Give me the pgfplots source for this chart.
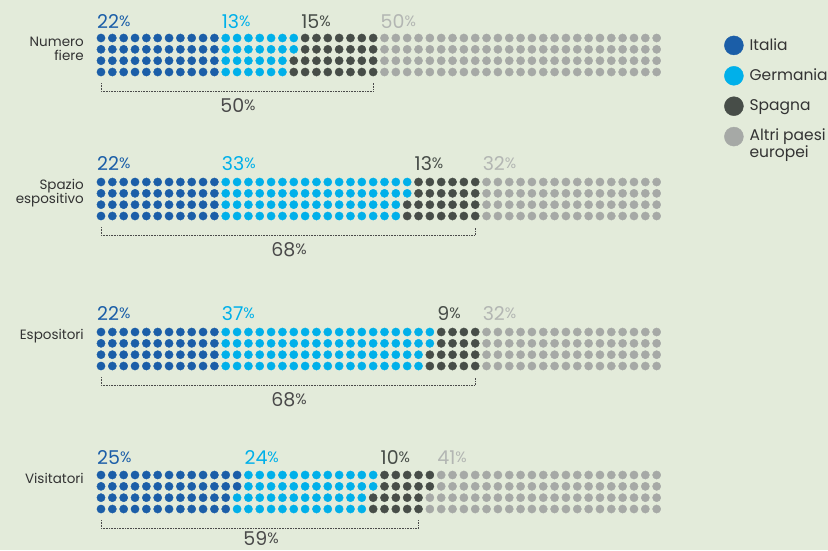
\documentclass[border=0pt]{standalone}
\usepackage{pgfplots}
\pgfplotsset{compat=1.18}
\usepackage{fontspec}
\setmainfont{Poppins}
\definecolor{bg}{HTML}{E3EBDA}
\definecolor{italia}{HTML}{1B5EA8}
\definecolor{germania}{HTML}{00B0EA}
\definecolor{spagna}{HTML}{474D48}
\definecolor{altri}{HTML}{A6A9A6}
\definecolor{altriT}{HTML}{B3B6B3}
\definecolor{txt}{HTML}{333333}
\definecolor{brkcol}{HTML}{4A4A4A}
\newcommand\pct[1]{{\fontsize{19}{21}\selectfont #1}{\fontsize{15}{17}\selectfont\raisebox{1.2pt}{\%}}}
\pgfplotsset{
 dot/.style={only marks, mark=*, mark size=4.1, mark options={draw=none}},
 g1/.style={x filter/.expression={101+11.34*x}, y filter/.expression={38+11.34*y}},
 g2/.style={x filter/.expression={101+11.34*x}, y filter/.expression={182+11.34*y}},
 g3/.style={x filter/.expression={101+11.34*x}, y filter/.expression={332+11.34*y}},
 g4/.style={x filter/.expression={101+11.34*x}, y filter/.expression={475+11.34*y}},
 bracket/.style={color=brkcol, line width=0.6pt, densely dotted, forget plot},
}
\begin{document}
\begin{tikzpicture}
\fill[bg] (0,0) rectangle (828pt,550pt);
\begin{axis}[at={(0,0)}, anchor=south west,
 width=828pt, height=550pt, scale only axis,
 xmin=0, xmax=828, ymin=0, ymax=550, y dir=reverse,
 hide axis, clip=false,
 legend style={at={(axis cs:724,35.5)}, anchor=north west, draw=none, fill=none,
   font=\fontsize{15.5}{17}\selectfont, text=txt, row sep=11pt, inner sep=0pt,
   cells={anchor=west},
   /tikz/every odd column/.append style={column sep=4pt}},
 legend image code/.code={\fill[#1] (0pt,0pt) circle (9.5pt);},
]
% ---------- Group 1: Numero fiere (22/13/15/50)
\addplot[dot, g1, color=italia] coordinates {(0,0)(0,1)(0,2)(0,3)(1,0)(1,1)(1,2)(1,3)(2,0)(2,1)(2,2)(2,3)(3,0)(3,1)(3,2)(3,3)(4,0)(4,1)(4,2)(4,3)(5,0)(5,1)(5,2)(5,3)(6,0)(6,1)(6,2)(6,3)(7,0)(7,1)(7,2)(7,3)(8,0)(8,1)(8,2)(8,3)(9,0)(9,1)(9,2)(9,3)(10,0)(10,1)(10,2)(10,3)};
\addlegendentry{Italia}
\addplot[dot, g1, color=germania] coordinates {(11,0)(11,1)(11,2)(11,3)(12,0)(12,1)(12,2)(12,3)(13,0)(13,1)(13,2)(13,3)(14,0)(14,1)(14,2)(14,3)(15,0)(15,1)(15,2)(15,3)(16,0)(16,1)(16,2)(16,3)(17,0)(17,1)};
\addlegendentry{Germania}
\addplot[dot, g1, color=spagna] coordinates {(17,2)(17,3)(18,0)(18,1)(18,2)(18,3)(19,0)(19,1)(19,2)(19,3)(20,0)(20,1)(20,2)(20,3)(21,0)(21,1)(21,2)(21,3)(22,0)(22,1)(22,2)(22,3)(23,0)(23,1)(23,2)(23,3)(24,0)(24,1)(24,2)(24,3)};
\addlegendentry{Spagna}
\addplot[dot, g1, color=altri] coordinates {(25,0)(25,1)(25,2)(25,3)(26,0)(26,1)(26,2)(26,3)(27,0)(27,1)(27,2)(27,3)(28,0)(28,1)(28,2)(28,3)(29,0)(29,1)(29,2)(29,3)(30,0)(30,1)(30,2)(30,3)(31,0)(31,1)(31,2)(31,3)(32,0)(32,1)(32,2)(32,3)(33,0)(33,1)(33,2)(33,3)(34,0)(34,1)(34,2)(34,3)(35,0)(35,1)(35,2)(35,3)(36,0)(36,1)(36,2)(36,3)(37,0)(37,1)(37,2)(37,3)(38,0)(38,1)(38,2)(38,3)(39,0)(39,1)(39,2)(39,3)(40,0)(40,1)(40,2)(40,3)(41,0)(41,1)(41,2)(41,3)(42,0)(42,1)(42,2)(42,3)(43,0)(43,1)(43,2)(43,3)(44,0)(44,1)(44,2)(44,3)(45,0)(45,1)(45,2)(45,3)(46,0)(46,1)(46,2)(46,3)(47,0)(47,1)(47,2)(47,3)(48,0)(48,1)(48,2)(48,3)(49,0)(49,1)(49,2)(49,3)};
\addlegendentry{\raisebox{-4.5pt}[0pt][0pt]{\begin{tabular}[t]{@{}l@{}}Altri paesi\\europei\end{tabular}}}
% ---------- Group 2: Spazio espositivo (22/33/13/32)
\addplot[dot, g2, color=italia, forget plot] coordinates {(0,0)(0,1)(0,2)(0,3)(1,0)(1,1)(1,2)(1,3)(2,0)(2,1)(2,2)(2,3)(3,0)(3,1)(3,2)(3,3)(4,0)(4,1)(4,2)(4,3)(5,0)(5,1)(5,2)(5,3)(6,0)(6,1)(6,2)(6,3)(7,0)(7,1)(7,2)(7,3)(8,0)(8,1)(8,2)(8,3)(9,0)(9,1)(9,2)(9,3)(10,0)(10,1)(10,2)(10,3)};
\addplot[dot, g2, color=germania, forget plot] coordinates {(11,0)(11,1)(11,2)(11,3)(12,0)(12,1)(12,2)(12,3)(13,0)(13,1)(13,2)(13,3)(14,0)(14,1)(14,2)(14,3)(15,0)(15,1)(15,2)(15,3)(16,0)(16,1)(16,2)(16,3)(17,0)(17,1)(17,2)(17,3)(18,0)(18,1)(18,2)(18,3)(19,0)(19,1)(19,2)(19,3)(20,0)(20,1)(20,2)(20,3)(21,0)(21,1)(21,2)(21,3)(22,0)(22,1)(22,2)(22,3)(23,0)(23,1)(23,2)(23,3)(24,0)(24,1)(24,2)(24,3)(25,0)(25,1)(25,2)(25,3)(26,0)(26,1)(26,2)(26,3)(27,0)(27,1)};
\addplot[dot, g2, color=spagna, forget plot] coordinates {(27,2)(27,3)(28,0)(28,1)(28,2)(28,3)(29,0)(29,1)(29,2)(29,3)(30,0)(30,1)(30,2)(30,3)(31,0)(31,1)(31,2)(31,3)(32,0)(32,1)(32,2)(32,3)(33,0)(33,1)(33,2)(33,3)};
\addplot[dot, g2, color=altri, forget plot] coordinates {(34,0)(34,1)(34,2)(34,3)(35,0)(35,1)(35,2)(35,3)(36,0)(36,1)(36,2)(36,3)(37,0)(37,1)(37,2)(37,3)(38,0)(38,1)(38,2)(38,3)(39,0)(39,1)(39,2)(39,3)(40,0)(40,1)(40,2)(40,3)(41,0)(41,1)(41,2)(41,3)(42,0)(42,1)(42,2)(42,3)(43,0)(43,1)(43,2)(43,3)(44,0)(44,1)(44,2)(44,3)(45,0)(45,1)(45,2)(45,3)(46,0)(46,1)(46,2)(46,3)(47,0)(47,1)(47,2)(47,3)(48,0)(48,1)(48,2)(48,3)(49,0)(49,1)(49,2)(49,3)};
% ---------- Group 3: Espositori (22/37/9/32)
\addplot[dot, g3, color=italia, forget plot] coordinates {(0,0)(0,1)(0,2)(0,3)(1,0)(1,1)(1,2)(1,3)(2,0)(2,1)(2,2)(2,3)(3,0)(3,1)(3,2)(3,3)(4,0)(4,1)(4,2)(4,3)(5,0)(5,1)(5,2)(5,3)(6,0)(6,1)(6,2)(6,3)(7,0)(7,1)(7,2)(7,3)(8,0)(8,1)(8,2)(8,3)(9,0)(9,1)(9,2)(9,3)(10,0)(10,1)(10,2)(10,3)};
\addplot[dot, g3, color=germania, forget plot] coordinates {(11,0)(11,1)(11,2)(11,3)(12,0)(12,1)(12,2)(12,3)(13,0)(13,1)(13,2)(13,3)(14,0)(14,1)(14,2)(14,3)(15,0)(15,1)(15,2)(15,3)(16,0)(16,1)(16,2)(16,3)(17,0)(17,1)(17,2)(17,3)(18,0)(18,1)(18,2)(18,3)(19,0)(19,1)(19,2)(19,3)(20,0)(20,1)(20,2)(20,3)(21,0)(21,1)(21,2)(21,3)(22,0)(22,1)(22,2)(22,3)(23,0)(23,1)(23,2)(23,3)(24,0)(24,1)(24,2)(24,3)(25,0)(25,1)(25,2)(25,3)(26,0)(26,1)(26,2)(26,3)(27,0)(27,1)(27,2)(27,3)(28,0)(28,1)(28,2)(28,3)(29,0)(29,1)};
\addplot[dot, g3, color=spagna, forget plot] coordinates {(29,2)(29,3)(30,0)(30,1)(30,2)(30,3)(31,0)(31,1)(31,2)(31,3)(32,0)(32,1)(32,2)(32,3)(33,0)(33,1)(33,2)(33,3)};
\addplot[dot, g3, color=altri, forget plot] coordinates {(34,0)(34,1)(34,2)(34,3)(35,0)(35,1)(35,2)(35,3)(36,0)(36,1)(36,2)(36,3)(37,0)(37,1)(37,2)(37,3)(38,0)(38,1)(38,2)(38,3)(39,0)(39,1)(39,2)(39,3)(40,0)(40,1)(40,2)(40,3)(41,0)(41,1)(41,2)(41,3)(42,0)(42,1)(42,2)(42,3)(43,0)(43,1)(43,2)(43,3)(44,0)(44,1)(44,2)(44,3)(45,0)(45,1)(45,2)(45,3)(46,0)(46,1)(46,2)(46,3)(47,0)(47,1)(47,2)(47,3)(48,0)(48,1)(48,2)(48,3)(49,0)(49,1)(49,2)(49,3)};
% ---------- Group 4: Visitatori (25/24/10/41)
\addplot[dot, g4, color=italia, forget plot] coordinates {(0,0)(0,1)(0,2)(0,3)(1,0)(1,1)(1,2)(1,3)(2,0)(2,1)(2,2)(2,3)(3,0)(3,1)(3,2)(3,3)(4,0)(4,1)(4,2)(4,3)(5,0)(5,1)(5,2)(5,3)(6,0)(6,1)(6,2)(6,3)(7,0)(7,1)(7,2)(7,3)(8,0)(8,1)(8,2)(8,3)(9,0)(9,1)(9,2)(9,3)(10,0)(10,1)(10,2)(10,3)(11,0)(11,1)(11,2)(11,3)(12,0)(12,1)};
\addplot[dot, g4, color=germania, forget plot] coordinates {(12,2)(12,3)(13,0)(13,1)(13,2)(13,3)(14,0)(14,1)(14,2)(14,3)(15,0)(15,1)(15,2)(15,3)(16,0)(16,1)(16,2)(16,3)(17,0)(17,1)(17,2)(17,3)(18,0)(18,1)(18,2)(18,3)(19,0)(19,1)(19,2)(19,3)(20,0)(20,1)(20,2)(20,3)(21,0)(21,1)(21,2)(21,3)(22,0)(22,1)(22,2)(22,3)(23,0)(23,1)(23,2)(23,3)(24,0)(24,1)};
\addplot[dot, g4, color=spagna, forget plot] coordinates {(24,2)(24,3)(25,0)(25,1)(25,2)(25,3)(26,0)(26,1)(26,2)(26,3)(27,0)(27,1)(27,2)(27,3)(28,0)(28,1)(28,2)(28,3)(29,0)(29,1)};
\addplot[dot, g4, color=altri, forget plot] coordinates {(29,2)(29,3)(30,0)(30,1)(30,2)(30,3)(31,0)(31,1)(31,2)(31,3)(32,0)(32,1)(32,2)(32,3)(33,0)(33,1)(33,2)(33,3)(34,0)(34,1)(34,2)(34,3)(35,0)(35,1)(35,2)(35,3)(36,0)(36,1)(36,2)(36,3)(37,0)(37,1)(37,2)(37,3)(38,0)(38,1)(38,2)(38,3)(39,0)(39,1)(39,2)(39,3)(40,0)(40,1)(40,2)(40,3)(41,0)(41,1)(41,2)(41,3)(42,0)(42,1)(42,2)(42,3)(43,0)(43,1)(43,2)(43,3)(44,0)(44,1)(44,2)(44,3)(45,0)(45,1)(45,2)(45,3)(46,0)(46,1)(46,2)(46,3)(47,0)(47,1)(47,2)(47,3)(48,0)(48,1)(48,2)(48,3)(49,0)(49,1)(49,2)(49,3)};
% ---------- brackets
\addplot[bracket] coordinates {(101,83)(101,91)(373.2,91)(373.2,83)};
\addplot[bracket] coordinates {(101,227)(101,235)(475.2,235)(475.2,227)};
\addplot[bracket] coordinates {(101,377)(101,385)(475.2,385)(475.2,377)};
\addplot[bracket] coordinates {(101,520)(101,528)(418.5,528)(418.5,520)};
% ---------- row labels
\begin{scope}[every node/.style={anchor=base east, inner sep=0pt, text=txt, font=\fontsize{13.5}{15}\selectfont}]
\node at (axis cs:84,46) {Numero};
\node at (axis cs:84,60) {fiere};
\node at (axis cs:84,189) {Spazio};
\node at (axis cs:84,203) {espositivo};
\node at (axis cs:84,339) {Espositori};
\node at (axis cs:84,483) {Visitatori};
\end{scope}
% ---------- percentage labels
\begin{scope}[every node/.style={anchor=base west, inner sep=0pt}]
\node[text=italia] at (axis cs:97,28) {\pct{22}};
\node[text=germania] at (axis cs:221.7,28) {\pct{13}};
\node[text=spagna] at (axis cs:301.1,28) {\pct{15}};
\node[text=altriT] at (axis cs:380.5,28) {\pct{50}};
\node[text=italia] at (axis cs:97,170) {\pct{22}};
\node[text=germania] at (axis cs:221.7,170) {\pct{33}};
\node[text=spagna] at (axis cs:414.5,170) {\pct{13}};
\node[text=altriT] at (axis cs:482.6,170) {\pct{32}};
\node[text=italia] at (axis cs:97,320) {\pct{22}};
\node[text=germania] at (axis cs:221.7,320) {\pct{37}};
\node[text=spagna] at (axis cs:437.2,320) {\pct{9}};
\node[text=altriT] at (axis cs:482.6,320) {\pct{32}};
\node[text=italia] at (axis cs:97,464) {\pct{25}};
\node[text=germania] at (axis cs:244.4,464) {\pct{24}};
\node[text=spagna] at (axis cs:380.5,464) {\pct{10}};
\node[text=altriT] at (axis cs:437.2,464) {\pct{41}};
\end{scope}
% ---------- bracket totals
\begin{scope}[every node/.style={anchor=base, inner sep=0pt, text=brkcol}]
\node at (axis cs:238,112) {\pct{50}};
\node at (axis cs:289,256) {\pct{68}};
\node at (axis cs:289,406) {\pct{68}};
\node at (axis cs:261,545) {\pct{59}};
\end{scope}
\end{axis}
\pgfresetboundingbox
\path[use as bounding box] (0,0) rectangle (828pt,550pt);
\end{tikzpicture}
\end{document}
